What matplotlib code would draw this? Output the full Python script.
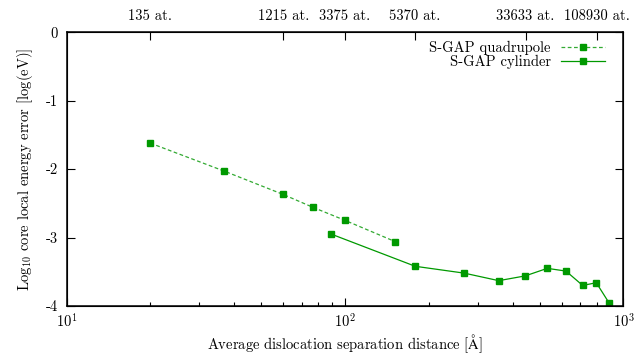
import matplotlib
matplotlib.use('Agg')
import matplotlib.pyplot as plt
import numpy as np

# Data
quad_dist = [20.0, 36.9, 60.0, 76.9, 100.2, 151.6]
quad_err = [-1.62, -2.03, -2.37, -2.56, -2.75, -3.06]

cyl_dist = [89.3, 178.8, 268.1, 356.5, 444.0, 532.5, 621.5, 713.7, 798.6, 889.0]
cyl_err = [-2.95, -3.42, -3.52, -3.63, -3.56, -3.45, -3.49, -3.70, -3.66, -3.96]

top_pos = [20, 60, 100, 178, 445, 801]
top_labels = ['135 at.', '1215 at.', '3375 at.', '5370 at.', '33633 at.', '108930 at.']

y_ticks = [0, -1, -2, -3, -4]
y_labels = ['0', '-1', '-2', '-3', '-4']

green = '#009900'
light_green = '#33aa33'

plt.rcParams['font.family'] = ['cmr10', 'DejaVu Serif']
plt.rcParams['mathtext.fontset'] = 'cm'
plt.rcParams['axes.unicode_minus'] = False
plt.rcParams['axes.formatter.use_mathtext'] = True
plt.rcParams['font.size'] = 10.5

fig = plt.figure(figsize=(6.37, 3.58), dpi=100)
ax = fig.add_axes([0.1044, 0.1453, 0.8744, 0.7645])

ax.plot(quad_dist, quad_err, linestyle=(0, (3, 2)), color=light_green, linewidth=0.9,
        marker='s', markersize=4, markerfacecolor=green, markeredgecolor=green,
        label='S-GAP quadrupole')
ax.plot(cyl_dist, cyl_err, linestyle='-', color=green, linewidth=0.9,
        marker='s', markersize=4, markerfacecolor=green, markeredgecolor=green,
        label='S-GAP cylinder')

ax.set_xscale('log')
ax.set_xlim(10, 1000)
ax.set_ylim(-4, 0)
ax.set_xticks([10, 100, 1000])
ax.set_xticklabels([r'$10^1$', r'$10^2$', r'$10^3$'])
ax.set_yticks(y_ticks)
ax.set_yticklabels(y_labels)

ax.tick_params(axis='both', which='major', direction='in', length=6, width=0.8, pad=6)
ax.tick_params(axis='x', which='major', pad=4)
ax.tick_params(axis='x', which='minor', direction='in', length=3, width=0.8)
ax.tick_params(axis='y', which='both', right=True)
ax.tick_params(axis='x', which='both', top=False)
for s in ax.spines.values():
    s.set_linewidth(1.1)

ax.set_xlabel(r'Average dislocation separation distance [$\mathrm{\AA}$]', labelpad=2)
ax.set_ylabel(r'Log$_{10}$ core local energy error [log(eV)]', labelpad=8)

# top axis with atom counts
ax2 = ax.twiny()
ax2.set_xscale('log')
ax2.set_xlim(ax.get_xlim())
ax2.set_xticks(top_pos)
ax2.set_xticklabels(top_labels)
ax2.xaxis.set_minor_locator(matplotlib.ticker.NullLocator())
ax2.tick_params(axis='x', which='major', direction='in', length=6, width=0.8, pad=7)

leg = ax.legend(loc='upper right', frameon=False, markerfirst=False,
                handlelength=3.0, borderaxespad=0.2, labelspacing=0.0,
                handletextpad=0.7, bbox_to_anchor=(0.982, 1.0))

fig.savefig('out.png', dpi=100)
